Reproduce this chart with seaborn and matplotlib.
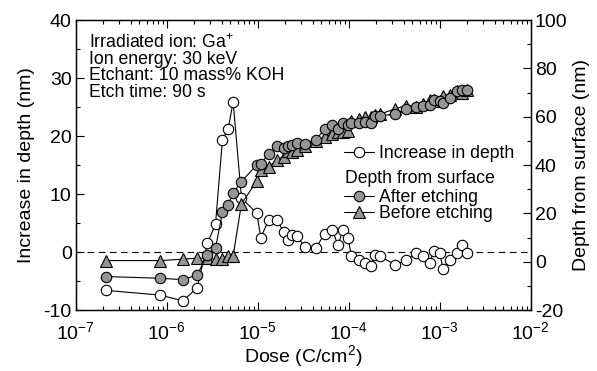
import numpy as np
import pandas as pd
import matplotlib
matplotlib.use("Agg")
import matplotlib.pyplot as plt
import seaborn as sns
from matplotlib.ticker import MultipleLocator, LogLocator, NullFormatter

### Données
dose = [2.17e-7, 8.4e-7, 1.51e-6, 2.16e-6, 2.8e-6, 3.43e-6, 4.09e-6, 4.72e-6, 5.36e-6, 6.62e-6,
        9.75e-6, 1.08e-5, 1.32e-5, 1.62e-5, 1.93e-5, 2.14e-5, 2.37e-5, 2.69e-5, 3.28e-5, 4.34e-5,
        5.45e-5, 6.6e-5, 7.6e-5, 8.65e-5, 9.8e-5, 1.07e-4, 1.29e-4, 1.5e-4, 1.75e-4, 1.93e-4,
        2.2e-4, 3.26e-4, 4.3e-4, 5.45e-4, 6.55e-4, 7.76e-4, 8.6e-4, 1.0e-3, 1.09e-3, 1.31e-3,
        1.53e-3, 1.75e-3, 2.0e-3]
increase = [-6.6, -7.4, -8.4, -6.1, 1.6, 4.8, 19.4, 21.2, 25.9, 9.3,
            6.7, 2.5, 5.6, 5.5, 3.5, 2.1, 2.9, 2.8, 0.9, 0.7,
            3.2, 3.8, 1.2, 3.8, 2.5, -0.7, -1.4, -1.8, -2.4, -0.5,
            -0.7, -2.2, -1.4, -0.2, -0.7, -1.9, 0.2, -0.2, -2.9, -1.3,
            -0.2, 1.2, -0.1]
after = [-6.1, -6.8, -7.4, -5.4, 3.0, 5.7, 20.4, 23.6, 28.4, 33.2,
         40.1, 40.5, 44.7, 47.7, 47.0, 48.0, 48.5, 49.1, 48.8, 50.5,
         54.9, 56.7, 54.9, 57.6, 56.7, 57.6, 57.6, 58.0, 57.6, 60.1,
         60.4, 61.1, 63.2, 64.0, 64.5, 65.0, 67.0, 66.5, 65.7, 67.7,
         70.5, 70.9, 70.9]
before = [0.5, 0.5, 1.1, 1.5, 1.5, 1.0, 1.0, 2.2, 2.5, 24.0,
          33.4, 38.0, 39.1, 42.2, 43.5, 45.9, 45.6, 46.3, 47.9, 49.8,
          51.7, 52.9, 53.7, 53.8, 54.2, 58.3, 59.0, 59.8, 60.0, 60.6,
          61.1, 63.3, 64.6, 64.2, 65.2, 66.9, 66.8, 66.7, 68.6, 69.0,
          70.7, 69.7, 71.0]

df = pd.DataFrame({"Dose": dose, "Increase": increase, "After": after, "Before": before})

sns.set_style("ticks")
plt.rcParams["font.family"] = ["Liberation Sans", "DejaVu Sans"]
plt.rcParams["mathtext.fontset"] = "custom"
plt.rcParams["mathtext.rm"] = "Liberation Sans"
plt.rcParams["mathtext.it"] = "Liberation Sans:italic"
plt.rcParams["axes.unicode_minus"] = False
for k in ["text.color", "axes.labelcolor", "xtick.color", "ytick.color", "axes.edgecolor"]:
    plt.rcParams[k] = "black"

fig = plt.figure(figsize=(5.97, 3.71), dpi=100)
ax = fig.add_axes([0.127, 0.164, 0.762, 0.782])
ax2 = ax.twinx()

### Courbes
sns.lineplot(data=df, x="Dose", y="Increase", ax=ax, sort=False, color="black", lw=0.8,
             marker="o", markersize=7.5, markerfacecolor="white", markeredgecolor="black",
             markeredgewidth=0.8, label="Increase in depth", legend=False)
sns.lineplot(data=df, x="Dose", y="Before", ax=ax2, sort=False, color="black", lw=0.8,
             marker="^", markersize=8, markerfacecolor="#959595", markeredgecolor="black",
             markeredgewidth=0.8, label="Before etching", legend=False)
sns.lineplot(data=df, x="Dose", y="After", ax=ax2, sort=False, color="black", lw=0.8,
             marker="o", markersize=7.5, markerfacecolor="#959595", markeredgecolor="black",
             markeredgewidth=0.8, label="After etching", legend=False)

ax.axhline(0, color="black", lw=0.8, ls=(0, (6, 4)), zorder=0)

### Axes
ax.set_xscale("log")
ax.set_xlim(1e-7, 1e-2)
ax.set_ylim(-10, 40)
ax2.set_ylim(-20, 100)
ax.xaxis.set_major_locator(LogLocator(base=10, numticks=10))
ax.xaxis.set_minor_locator(LogLocator(base=10, subs=np.arange(2, 10), numticks=20))
ax.xaxis.set_minor_formatter(NullFormatter())
ax.yaxis.set_major_locator(MultipleLocator(10))
ax.yaxis.set_minor_locator(MultipleLocator(5))
ax2.yaxis.set_major_locator(MultipleLocator(20))
ax2.yaxis.set_minor_locator(MultipleLocator(10))

ax.tick_params(which="both", direction="in", top=True, right=False, labelsize=14, pad=3)
ax.tick_params(axis="x", which="both", pad=8)
ax.tick_params(which="major", length=6, width=0.8)
ax.tick_params(which="minor", length=3, width=0.8)
ax2.tick_params(which="both", direction="in", labelsize=14, pad=3)
ax2.tick_params(which="major", length=6, width=0.8)
ax2.tick_params(which="minor", length=3, width=0.8)
for a in (ax, ax2):
    for s in a.spines.values():
        s.set_linewidth(0.9)
        s.set_color("black")

ax.set_xlabel("Dose (C/cm$^2$)", fontsize=14, labelpad=0)
ax.set_ylabel("Increase in depth (nm)", fontsize=14, labelpad=6)
ax2.set_ylabel("Depth from surface (nm)", fontsize=14, labelpad=4)

### Texte et légende
ax.text(0.03, 0.955, "Irradiated ion: Ga$^{+}$\nIon energy: 30 keV\nEtchant: 10 mass% KOH\nEtch time: 90 s",
        transform=ax.transAxes, fontsize=12.7, va="top", ha="left", linespacing=0.95)

h1, l1 = ax.get_legend_handles_labels()
h2, l2 = ax2.get_legend_handles_labels()
leg1 = ax2.legend(h1, l1, loc="upper left", bbox_to_anchor=(0.59, 0.568), frameon=False,
                  fontsize=12.7, handlelength=1.7, handletextpad=0.3, borderpad=0, borderaxespad=0)
ax2.add_artist(leg1)
ax.text(0.592, 0.455, "Depth from surface", transform=ax.transAxes, fontsize=12.7, va="center", ha="left")
ax2.legend([h2[1], h2[0]], [l2[1], l2[0]], loc="upper left", bbox_to_anchor=(0.59, 0.418),
           frameon=False, fontsize=12.7, handlelength=1.7, handletextpad=0.3, borderpad=0,
           borderaxespad=0, labelspacing=-0.05)

fig.savefig("out.png", dpi=100)
